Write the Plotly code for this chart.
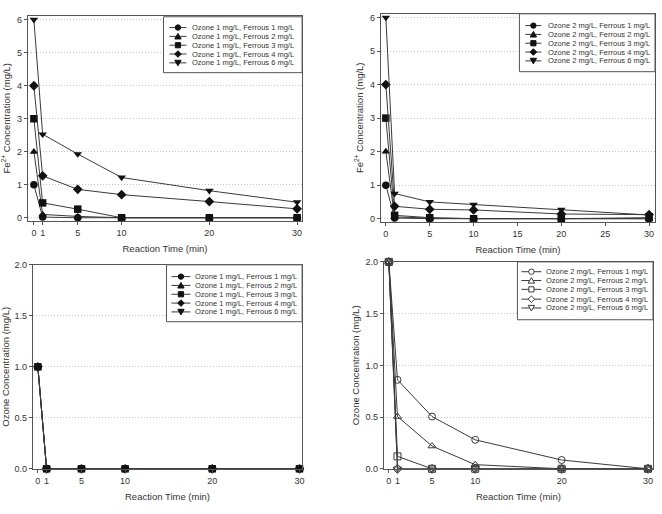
import plotly.graph_objects as go

# ---------------- data ----------------
time_min = [0, 1, 5, 10, 20, 30]
ferrous_labels = ["Ferrous 1 mg/L", "Ferrous 2 mg/L", "Ferrous 3 mg/L", "Ferrous 4 mg/L", "Ferrous 6 mg/L"]

# Fe2+ concentration, ozone 1 mg/L
fe_o1_f1 = [1, 0.02, 0.0, 0, 0, 0]
fe_o1_f2 = [2, 0.10, 0.04, 0, 0, 0]
fe_o1_f3 = [3, 0.45, 0.26, 0, 0, 0]
fe_o1_f4 = [4, 1.27, 0.86, 0.70, 0.49, 0.27]
fe_o1_f6 = [6, 2.53, 1.93, 1.22, 0.82, 0.47]

# Fe2+ concentration, ozone 2 mg/L
fe_o2_f1 = [1, 0.02, 0.0, 0, 0, 0]
fe_o2_f2 = [2, 0.05, 0.02, 0, 0, 0]
fe_o2_f3 = [3, 0.10, 0.03, 0, 0, 0.03]
fe_o2_f4 = [4, 0.37, 0.28, 0.26, 0.14, 0.12]
fe_o2_f6 = [6, 0.75, 0.50, 0.42, 0.27, 0.11]

# Ozone concentration, ozone 1 mg/L
oz_o1_f1 = [1, 0, 0, 0, 0, 0]
oz_o1_f2 = [1, 0, 0, 0, 0, 0]
oz_o1_f3 = [1, 0, 0, 0, 0, 0]
oz_o1_f4 = [1, 0, 0, 0, 0, 0]
oz_o1_f6 = [1, 0, 0, 0, 0, 0]

# Ozone concentration, ozone 2 mg/L
oz_o2_f1 = [2, 0.86, 0.505, 0.28, 0.085, 0]
oz_o2_f2 = [2, 0.505, 0.22, 0.04, 0, 0]
oz_o2_f3 = [2, 0.12, 0, 0, 0, 0]
oz_o2_f4 = [2, 0, 0, 0, 0, 0]
oz_o2_f6 = [2, 0, 0, 0, 0, 0]

ticks_a = [0, 1, 5, 10, 20, 30]
ticks_b = [0, 5, 10, 15, 20, 25, 30]

# ---------------- layout helpers ----------------
W, H = 662, 514
def fx(px):
    return px / W
def fy(py):
    return 1 - py / H

FONT = "Liberation Sans, Arial, sans-serif"
TXT = "#333333"
AX = "#555555"
LINE = "#3a3a3a"
MK = "#111111"

symbols = ["circle", "triangle-up", "square", "diamond", "triangle-down"]

panels = [
    dict(series=[fe_o1_f1, fe_o1_f2, fe_o1_f3, fe_o1_f4, fe_o1_f6], ozone="1", hollow=False,
         dom=(28, 303, 11, 220), xr=[-0.68, 30.57], yr=[-0.09, 6.12], xt=ticks_a,
         yt=[0, 1, 2, 3, 4, 5, 6], yfmt=None, ytitle="Fe<sup>2+</sup> Concentration (mg/L)",
         leg=dict(box=(164, 303, 12, 69), ys=[23, 32, 41, 50, 59], sx=(170, 187), tx=191)),
    dict(series=[fe_o2_f1, fe_o2_f2, fe_o2_f3, fe_o2_f4, fe_o2_f6], ozone="2", hollow=False,
         dom=(382, 657, 9, 221), xr=[-0.57, 30.68], yr=[-0.09, 6.11], xt=ticks_b,
         yt=[0, 1, 2, 3, 4, 5, 6], yfmt=None, ytitle="Fe<sup>2+</sup> Concentration (mg/L)",
         leg=dict(box=(521, 657, 9, 68), ys=[21, 30, 39, 48, 57], sx=(527, 543), tx=548)),
    dict(series=[oz_o1_f1, oz_o1_f2, oz_o1_f3, oz_o1_f4, oz_o1_f6], ozone="1", hollow=False,
         dom=(33, 303, 265, 473), xr=[-0.57, 30.3], yr=[0, 2], xt=ticks_a,
         yt=[0, 0.5, 1, 1.5, 2], yfmt=".1f", ytitle="Ozone Concentration (mg/L)",
         leg=dict(box=(167, 303, 265, 323), ys=[277, 286, 295, 304, 313], sx=(172, 191), tx=194)),
    dict(series=[oz_o2_f1, oz_o2_f2, oz_o2_f3, oz_o2_f4, oz_o2_f6], ozone="2", hollow=True,
         dom=(385, 655, 262, 473), xr=[-0.58, 30.58], yr=[0, 2], xt=ticks_a,
         yt=[0, 0.5, 1, 1.5, 2], yfmt=".1f", ytitle="Ozone Concentration (mg/L)",
         leg=dict(box=(519, 655, 262, 321), ys=[272, 281, 290, 300, 309], sx=(523, 543), tx=546)),
]

fig = go.Figure()
layout = dict(width=W, height=H, margin=dict(l=0, r=0, t=0, b=0),
              paper_bgcolor="white", plot_bgcolor="white", showlegend=False,
              font=dict(family=FONT, color=TXT, size=9))
shapes = []
annotations = []

# pixel-size glyph paths for legend markers (y up)
glyph_paths = {
    "triangle-up": "M-3.2,-2.6 L3.2,-2.6 L0,3 Z",
    "triangle-down": "M-3.2,2.6 L3.2,2.6 L0,-3 Z",
    "diamond": "M0,3.3 L3.3,0 L0,-3.3 L-3.3,0 Z",
}

for i, p in enumerate(panels, start=1):
    xa = "x" if i == 1 else f"x{i}"
    ya = "y" if i == 1 else f"y{i}"
    for s, sym, lab in zip(p["series"], symbols, ferrous_labels):
        if p["hollow"]:
            marker = dict(symbol=sym + "-open", size=7, color=LINE, line=dict(width=1, color=LINE))
        else:
            marker = dict(symbol=sym, size=7.5, color=MK, line=dict(width=0))
        fig.add_trace(go.Scatter(x=time_min, y=s, mode="lines+markers", xaxis=xa, yaxis=ya,
                                 line=dict(color=LINE, width=1), marker=marker,
                                 name=f"Ozone {p['ozone']} mg/L, {lab}", cliponaxis=False))
    x0, x1, y0, y1 = p["dom"]
    axcommon = dict(showline=True, linecolor=AX, linewidth=1, mirror=True, ticks="outside",
                    ticklen=3, tickcolor=AX, tickfont=dict(size=9, color=TXT, family=FONT),
                    zeroline=False, fixedrange=True)
    layout["xaxis" if i == 1 else f"xaxis{i}"] = dict(
        domain=[fx(x0), fx(x1)], range=p["xr"], anchor=ya, tickmode="array", tickvals=p["xt"],
        showgrid=False, title=dict(text="Reaction Time (min)", font=dict(size=9.5, color=TXT, family=FONT), standoff=8),
        **axcommon)
    layout["yaxis" if i == 1 else f"yaxis{i}"] = dict(
        domain=[fy(y1), fy(y0)], range=p["yr"], anchor=xa, tickmode="array", tickvals=p["yt"],
        tickformat=p["yfmt"], showgrid=True, gridcolor="#c4c4c4", griddash="1px,2px", gridwidth=1,
        title=dict(text=p["ytitle"], font=dict(size=9.5, color=TXT, family=FONT), standoff=4),
        **axcommon)

    # manual legend
    lg = p["leg"]
    bx0, bx1, by0, by1 = lg["box"]
    shapes.append(dict(type="rect", xref="paper", yref="paper", x0=fx(bx0), x1=fx(bx1),
                       y0=fy(by1), y1=fy(by0), fillcolor="white",
                       line=dict(color=AX, width=1), layer="above"))
    sx0, sx1 = lg["sx"]
    cx = (sx0 + sx1) / 2
    for ey, sym, lab in zip(lg["ys"], symbols, ferrous_labels):
        shapes.append(dict(type="line", xref="paper", yref="paper", x0=fx(sx0), x1=fx(sx1),
                           y0=fy(ey), y1=fy(ey), line=dict(color=LINE, width=1), layer="above"))
        fill = "white" if p["hollow"] else MK
        lcol = LINE if p["hollow"] else MK
        common = dict(xref="paper", yref="paper", xsizemode="pixel", ysizemode="pixel",
                      xanchor=fx(cx), yanchor=fy(ey), fillcolor=fill,
                      line=dict(color=lcol, width=1), layer="above")
        if sym == "circle":
            shapes.append(dict(type="circle", x0=-2.7, x1=2.7, y0=-2.7, y1=2.7, **common))
        elif sym == "square":
            shapes.append(dict(type="rect", x0=-2.6, x1=2.6, y0=-2.6, y1=2.6, **common))
        else:
            shapes.append(dict(type="path", path=glyph_paths[sym], **common))
        annotations.append(dict(xref="paper", yref="paper", x=fx(lg["tx"]), y=fy(ey),
                                xanchor="left", yanchor="middle", showarrow=False,
                                text=f"Ozone {p['ozone']} mg/L, {lab}",
                                font=dict(size=7.5, color=TXT, family=FONT)))

layout["shapes"] = shapes
layout["annotations"] = annotations
fig.update_layout(**layout)
fig.write_html("out.html")
